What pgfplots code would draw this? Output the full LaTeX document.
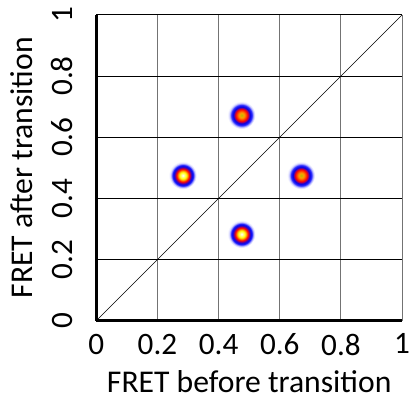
\documentclass[border=0pt]{standalone}
\usepackage{fontspec}
\setmainfont{Carlito}
\usepackage{pgfplots}
\pgfplotsset{compat=1.18}

\pgfdeclareradialshading{spotA}{\pgfpoint{0bp}{0bp}}{%
 color(0bp)=(white); color(2.7bp)=(yellow!45!white); color(6.3bp)=(yellow);
 color(8.9bp)=(orange); color(11.6bp)=(red); color(14.3bp)=(red!40!blue);
 color(16.1bp)=(blue!90!black); color(18.8bp)=(blue!85); color(21.6bp)=(blue!20!white); color(25bp)=(white); color(50bp)=(white)}
\pgfdeclareradialshading{spotB}{\pgfpoint{0bp}{0bp}}{%
 color(0bp)=(olive!55!yellow); color(4.5bp)=(orange!75!yellow); color(8bp)=(orange!55!red);
 color(10.7bp)=(red); color(13.4bp)=(red!40!blue);
 color(15.2bp)=(blue!90!black); color(18.3bp)=(blue!85); color(21.6bp)=(blue!20!white); color(25bp)=(white); color(50bp)=(white)}
\pgfdeclareplotmark{spotA}{\pgfpathcircle{\pgfpointorigin}{14bp}\pgfshadepath{spotA}{0}\pgfusepath{}}
\pgfdeclareplotmark{spotB}{\pgfpathcircle{\pgfpointorigin}{14bp}\pgfshadepath{spotB}{0}\pgfusepath{}}

\begin{document}
\begin{tikzpicture}
\begin{axis}[name=ax, scale only axis, width=308bp, height=308bp,
  xmin=0, xmax=1, ymin=0, ymax=1,
  xtick={0,0.2,0.4,0.6,0.8,1}, ytick={0,0.2,0.4,0.6,0.8,1},
  grid=major,
  x grid style={black!55, line width=1.1bp},
  y grid style={black, line width=0.8bp},
  axis x line*=bottom, axis y line*=left,
  axis line style={line width=2.6bp, -},
  major tick length=0pt,
  /pgf/number format/assume math mode=true,
  tick label style={font=\fontsize{31.5}{32}\selectfont},
  xticklabel style={anchor=north, inner ysep=13bp, inner xsep=0pt},
  yticklabel style={rotate=90, anchor=south, inner ysep=24bp, inner xsep=0pt},
  label style={font=\fontsize{32}{33}\selectfont, inner sep=0pt},
  xlabel={FRET before transition},
  ylabel={FRET after transition},
  xlabel style={at={(axis description cs:0.5,0)}, anchor=base, yshift=-72bp},
  ylabel style={at={(axis description cs:-0.208,0.5)}, anchor=base},
]
\addplot[black, line width=0.6bp] coordinates {(0,0) (1,1)};
\addplot[only marks, mark=spotA] coordinates {(0.283,0.475) (0.475,0.283)};
\addplot[only marks, mark=spotB] coordinates {(0.475,0.672) (0.670,0.475)};
\end{axis}
\path ([xshift=-97bp,yshift=-81bp]ax.south west) rectangle ([xshift=5bp,yshift=15bp]ax.north east);
\end{tikzpicture}
\end{document}
